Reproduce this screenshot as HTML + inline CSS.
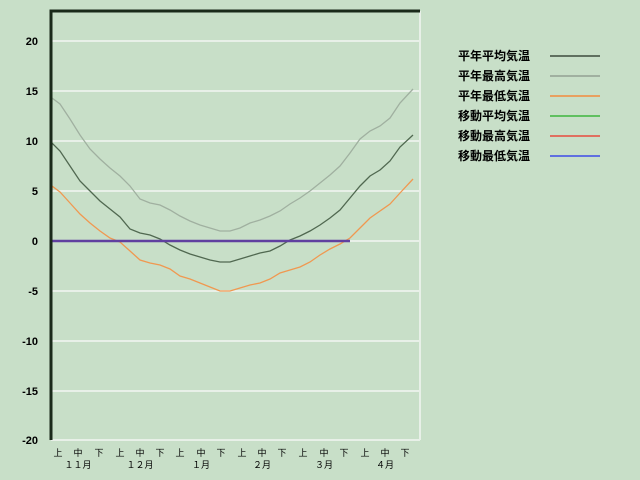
<!DOCTYPE html><html><head><meta charset="utf-8"><style>body{margin:0;background:#c8dfc8}</style></head><body>
<svg width="640" height="480" xmlns="http://www.w3.org/2000/svg" style="display:block">
<rect width="640" height="480" fill="#c8dfc8"/>
<g stroke="#e8f0e8" stroke-width="2">
<line x1="51" y1="41" x2="420" y2="41"/><line x1="51" y1="91" x2="420" y2="91"/><line x1="51" y1="141" x2="420" y2="141"/><line x1="51" y1="191" x2="420" y2="191"/><line x1="51" y1="241" x2="420" y2="241"/><line x1="51" y1="291" x2="420" y2="291"/><line x1="51" y1="341" x2="420" y2="341"/><line x1="51" y1="391" x2="420" y2="391"/>
<line x1="420" y1="11" x2="420" y2="440"/><line x1="51" y1="440" x2="420" y2="440"/>
</g>
<g fill="none" stroke-width="1.3">
<polyline stroke="#a0b0a0" points="51,241 52,98 60,104 70,119 80,135 90,149 100,159 110,168 120,176 130,186 140,199 150,203 160,205 170,210 180,216 190,221 200,225 210,228 220,231 230,231 240,228 250,223 260,220 270,216 280,211 290,204 300,198 310,191 320,183 330,175 340,166 350,153 360,139 370,131 380,126 390,118 400,103 413,89"/>
<polyline stroke="#506850" points="51,241 52,143 60,151 70,166 80,181 90,191 100,201 110,209 120,217 130,229 140,233 150,235 160,239 170,245 180,250 190,254 200,257 210,260 220,262 230,262 240,259 250,256 260,253 270,251 280,246 290,240 300,236 310,231 320,225 330,218 340,210 350,198 360,186 370,176 380,170 390,161 400,147 413,135"/>
<polyline stroke="#f09850" points="51,241 52,186 60,192 70,203 80,214 90,223 100,231 110,238 120,242 130,251 140,260 150,263 160,265 170,269 180,276 190,279 200,283 210,287 220,291 230,291 240,288 250,285 260,283 270,279 280,273 290,270 300,267 310,262 320,255 330,249 340,244 350,238 360,228 370,218 380,211 390,204 400,193 413,179"/>
<line x1="51" y1="241" x2="350" y2="241" stroke="#6040a0" stroke-width="2.5"/>
</g>
<polyline points="51,440 51,11 420,11" fill="none" stroke="#1a2a1a" stroke-width="3"/>
<g font-family="Liberation Sans, sans-serif" font-weight="bold" font-size="11" fill="#000" text-anchor="end">
<text x="38" y="45">20</text><text x="38" y="95">15</text><text x="38" y="145">10</text><text x="38" y="195">5</text><text x="38" y="245">0</text><text x="38" y="295">-5</text><text x="38" y="345">-10</text><text x="38" y="395">-15</text><text x="38" y="444">-20</text>
</g>
<g font-family="Liberation Sans, 'Noto Sans CJK JP', sans-serif" font-size="9" fill="#000" text-anchor="middle">
<text x="58" y="456">上</text><text x="78" y="456">中</text><text x="99" y="456">下</text>
<text x="120" y="456">上</text><text x="140" y="456">中</text><text x="160" y="456">下</text>
<text x="180" y="456">上</text><text x="201" y="456">中</text><text x="221" y="456">下</text>
<text x="242" y="456">上</text><text x="262" y="456">中</text><text x="282" y="456">下</text>
<text x="303" y="456">上</text><text x="324" y="456">中</text><text x="344" y="456">下</text>
<text x="365" y="456">上</text><text x="385" y="456">中</text><text x="405" y="456">下</text>
<text x="78" y="468">１１月</text><text x="140" y="468">１２月</text><text x="201" y="468">１月</text><text x="262" y="468">２月</text><text x="324" y="468">３月</text><text x="385" y="468">４月</text>
</g>
<g font-family="Liberation Sans, 'Noto Sans CJK JP', sans-serif" font-weight="bold" font-size="12" fill="#000">
<text x="458" y="60">平年平均気温</text><text x="458" y="80">平年最高気温</text><text x="458" y="100">平年最低気温</text><text x="458" y="120">移動平均気温</text><text x="458" y="140">移動最高気温</text><text x="458" y="160">移動最低気温</text>
</g>
<g stroke-width="2">
<line x1="550" y1="56" x2="600" y2="56" stroke="#607060"/><line x1="550" y1="76" x2="600" y2="76" stroke="#a0b0a0"/><line x1="550" y1="96" x2="600" y2="96" stroke="#e8a060"/><line x1="550" y1="116" x2="600" y2="116" stroke="#60c060"/><line x1="550" y1="136" x2="600" y2="136" stroke="#e07060"/><line x1="550" y1="156" x2="600" y2="156" stroke="#6070e0"/>
</g>
</svg></body></html>
